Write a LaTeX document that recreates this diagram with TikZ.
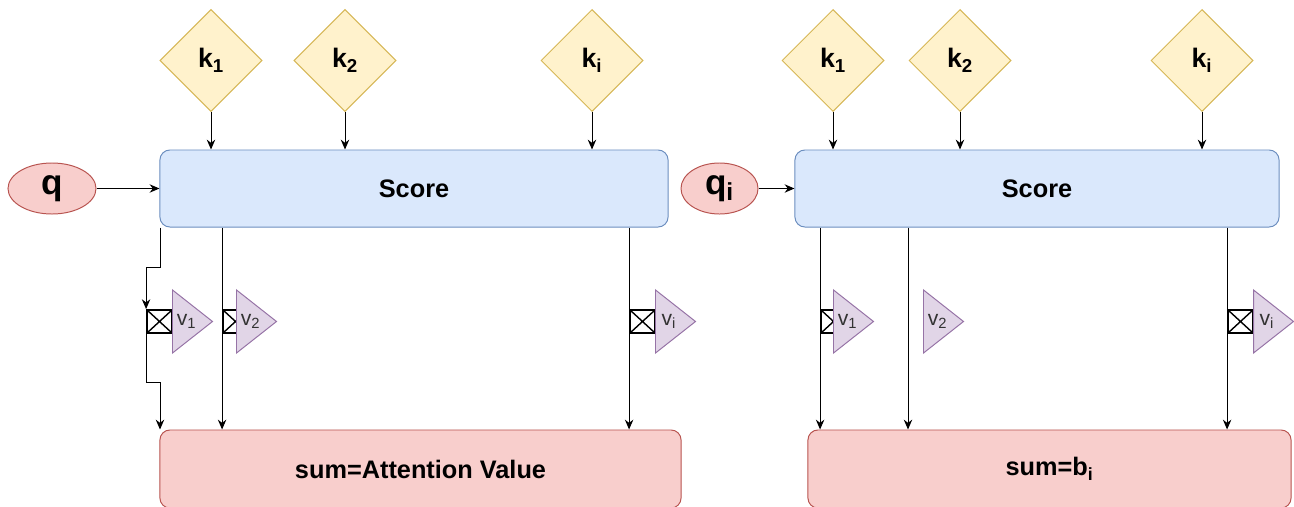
\documentclass[tikz,border=0pt]{standalone}
\usepackage{fontspec}
\setmainfont{Liberation Sans}
\usetikzlibrary{shapes.geometric,arrows.meta}

\definecolor{scorefill}{HTML}{DAE8FC}
\definecolor{scoreline}{HTML}{6C8EBF}
\definecolor{keyfill}{HTML}{FFF2CC}
\definecolor{keyline}{HTML}{D6B656}
\definecolor{sumfill}{HTML}{F8CECC}
\definecolor{sumline}{HTML}{B85450}
\definecolor{valfill}{HTML}{E1D5E7}
\definecolor{valline}{HTML}{9673A6}

\tikzset{
  scorebox/.style={draw=scoreline, fill=scorefill, line width=0.7pt, rounded corners=0.25cm,
    minimum height=1.925cm, font=\fontsize{18}{20}\selectfont\bfseries},
  sumbox/.style={draw=sumline, fill=sumfill, line width=0.7pt, rounded corners=0.25cm,
    minimum height=1.95cm, font=\fontsize{18}{20}\selectfont\bfseries},
  keynode/.style={diamond, aspect=1, draw=keyline, fill=keyfill, line width=0.7pt,
    minimum size=2.55cm, inner sep=0pt, font=\fontsize{19}{21}\selectfont\bfseries},
  querynode/.style={ellipse, draw=sumline, fill=sumfill, line width=0.7pt,
    minimum height=1.275cm, inner sep=0pt, font=\fontsize{25}{27}\selectfont\bfseries},
  valnode/.style={isosceles triangle, isosceles triangle stretches, draw=valline, fill=valfill,
    line width=0.7pt, minimum width=1.575cm, minimum height=1cm, inner sep=0pt,
    anchor=lower side, text=black!80, font=\fontsize{15}{16}\selectfont},
  multbox/.style={draw, line width=1.3pt, minimum width=0.625cm, minimum height=0.575cm, inner sep=0pt,
    path picture={\draw[line width=1pt] (path picture bounding box.north west) -- (path picture bounding box.south east)
      (path picture bounding box.south west) -- (path picture bounding box.north east);}},
  link/.style={-{Stealth[length=7pt,width=6pt]}, line width=0.7pt}
}

\begin{document}
\begin{tikzpicture}[x=0.025cm, y=-0.025cm]
    \useasboundingbox (0,0) rectangle (1294,506);

    % left: attention value
    \node[scorebox, minimum width=12.7cm] (sc) at (414,188.5) {Score};
    \node[sumbox, minimum width=13.025cm] (su) at (420.5,469) {sum=Attention Value};
    \node[querynode, minimum width=2.2cm] (q) at (52,188.5) {q};
    \node[keynode] (k1) at (211,60.5) {k\textsubscript{1}};
    \node[keynode] (k2) at (345,60.5) {k\textsubscript{2}};
    \node[keynode] (ki) at (592,60.5) {k\textsubscript{i}};

    \draw[link] (q) -- (sc);
    \foreach \k in {k1,k2,ki}
        \draw[link] (\k) -- (\k |- sc.north);

    \node[multbox] (m1) at (159.5,321.5) {};
    \node[multbox] (m2) at (235.5,321.5) {};
    \node[multbox] (mi) at (642.5,321.5) {};
    \coordinate (j0) at (160,267);
    \coordinate (j1) at (160,382);
    \draw[link] (j0 |- sc.south) -- (j0) -| (m1.north west);
    \draw[link] (m1.south west) |- (j1) -- (j1 |- su.north);
    \draw[link] (m2.west |- sc.south) -- (m2.west |- su.north);
    \draw[link] (mi.west |- sc.south) -- (mi.west |- su.north);

    \node[valnode] (v1) at (172,321.5) {v\textsubscript{1}};
    \node[valnode] (v2) at (236,321.5) {v\textsubscript{2}};
    \node[valnode] (vi) at (655,321.5) {v\textsubscript{i}};

    % right: b_i
    \node[scorebox, minimum width=12.1cm] (sc2) at (1037,188.5) {Score};
    \node[sumbox, minimum width=12.075cm] (su2) at (1049.5,469) {sum=b\textsubscript{i}};
    \node[querynode, minimum width=1.925cm] (qi) at (719.5,188.5) {q\textsubscript{i}};
    \node[keynode] (l1) at (833,60.5) {k\textsubscript{1}};
    \node[keynode] (l2) at (960,60.5) {k\textsubscript{2}};
    \node[keynode] (li) at (1202,60.5) {k\textsubscript{i}};

    \draw[link] (qi) -- (sc2);
    \foreach \k in {l1,l2,li}
        \draw[link] (\k) -- (\k |- sc2.north);

    \node[multbox] (n1) at (833.5,321.5) {};
    \node[multbox] (ni) at (1240.5,321.5) {};
    \coordinate (r2) at (908,0);
    \draw[link] (n1.west |- sc2.south) -- (n1.west |- su2.north);
    \draw[link] (r2 |- sc2.south) -- (r2 |- su2.north);
    \draw[link] (ni.west |- sc2.south) -- (ni.west |- su2.north);

    \node[valnode] (w1) at (833,321.5) {v\textsubscript{1}};
    \node[valnode] (w2) at (923,321.5) {v\textsubscript{2}};
    \node[valnode] (wi) at (1253,321.5) {v\textsubscript{i}};
\end{tikzpicture}
\end{document}
